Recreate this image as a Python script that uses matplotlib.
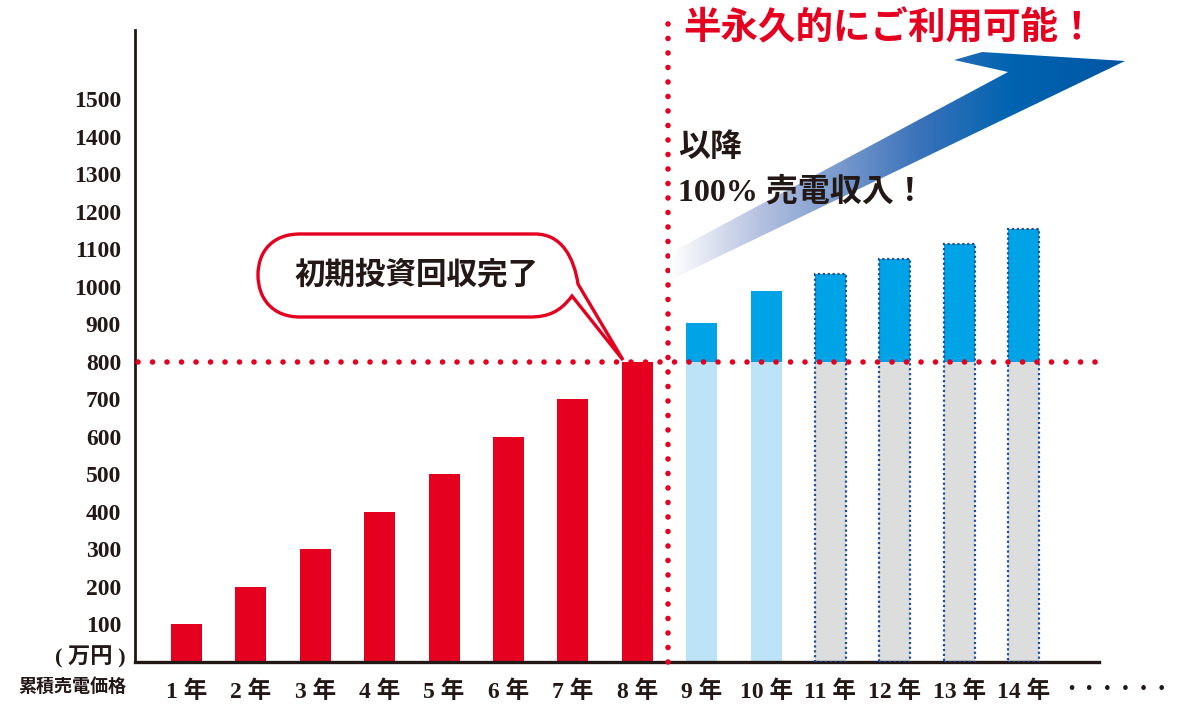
import numpy as np
import matplotlib
matplotlib.use("Agg")
import matplotlib.pyplot as plt
from matplotlib.path import Path
from matplotlib.patches import PathPatch, Polygon
from matplotlib.colors import LinearSegmentedColormap

plt.rcParams['font.family'] = ['Liberation Serif', 'Noto Sans CJK JP']
plt.rcParams['font.weight'] = 'bold'

RED = "#e60020"
INK = "#231815"

# data
years = list(range(1, 15))
year_labels = [f"{y} 年" for y in years]
payback = [100, 200, 300, 400, 500, 600, 700, 800]
after_years = [9, 10, 11, 12, 13, 14]
after_total = [905, 990, 1035, 1075, 1115, 1155]
threshold = 800
yticks = list(range(100, 1600, 100))

fig = plt.figure(figsize=(11.8, 7.04), dpi=100)
ax = fig.add_axes([135/1180, 42/704, 964/1180, 632/704])
ax.set_xlim(0.2, 15.17)
ax.set_ylim(0, 1685)

w = 0.48
ax.bar(years[:8], payback, width=w, color=RED, zorder=2)

# 9-10: light blue base, 11-14: grey base with dotted outline
base_cols = ["#bde3f7", "#bde3f7", "#dcdddd", "#dcdddd", "#dcdddd", "#dcdddd"]
ax.bar(after_years, [threshold] * 6, width=w, color=base_cols, zorder=2)
ax.bar(after_years, [v - threshold for v in after_total], bottom=threshold,
       width=w, color="#00a3e6", zorder=2)
ax.bar(after_years[2:], after_total[2:], width=w, fill=False,
       edgecolor="#1f4e9c", linewidth=1.6, linestyle=(0, (1, 1.2)), zorder=3)

# dotted red lines
dot = dict(color=RED, linewidth=4, linestyle=(0, (0.01, 2.6)),
           dash_capstyle="round", zorder=4, clip_on=False)
ax.plot([0.25, 15.14], [threshold, threshold], **dot)
ax.plot([8.48, 8.48], [0, 1705], **dot)

for s in ["top", "right"]:
    ax.spines[s].set_visible(False)
ax.spines["left"].set_linewidth(2)
ax.spines["bottom"].set_linewidth(2.4)
ax.spines["left"].set_color(INK)
ax.spines["bottom"].set_color(INK)
ax.set_facecolor("none")

ax.set_yticks(yticks)
ax.set_yticklabels([str(t) for t in yticks], fontsize=17, color=INK)
ax.set_xticks(years)
ax.set_xticklabels(year_labels, fontsize=17, color=INK)
ax.tick_params(axis="y", length=0, pad=10)
ax.tick_params(axis="x", length=0, pad=13)

# overlay in pixel coordinates for the decorations
ov = fig.add_axes([0, 0, 1, 1])
ov.axis("off")

# gradient arrow
arrow = Polygon([(670, 280), (1125, 61), (982, 52), (954, 60), (1008, 72), (670, 253)],
                closed=True, facecolor="none", edgecolor="none")
ov.add_patch(arrow)
cmap = LinearSegmentedColormap.from_list(
    "arr", [(0, "#ffffff"), (0.2, "#b4c0e0"), (0.55, "#3a72ba"), (0.75, "#0064b0"), (1, "#0055a4")])
grad = np.linspace(0, 1, 256).reshape(1, -1)
im = ov.imshow(grad, cmap=cmap, extent=[670, 1125, 285, 50], aspect="auto", zorder=1)
im.set_clip_path(arrow)

# speech bubble
verts = [(300, 234), (535, 234),
         (562, 234), (574, 258), (578, 284),
         (623, 360), (572, 296),
         (560, 312), (548, 317), (530, 317),
         (300, 317),
         (272, 317), (258, 298), (258, 275),
         (258, 252), (272, 234), (300, 234),
         (0, 0)]
codes = [Path.MOVETO, Path.LINETO,
         Path.CURVE4, Path.CURVE4, Path.CURVE4,
         Path.LINETO, Path.LINETO,
         Path.CURVE4, Path.CURVE4, Path.CURVE4,
         Path.LINETO,
         Path.CURVE4, Path.CURVE4, Path.CURVE4,
         Path.CURVE4, Path.CURVE4, Path.CURVE4,
         Path.CLOSEPOLY]
ov.add_patch(PathPatch(Path(verts, codes), facecolor="white", edgecolor=RED,
                       linewidth=2.4, zorder=3))
ov.text(416, 276, "初期投資回収完了", fontsize=22, color=INK, ha="center", va="center", zorder=4)

ov.text(683, 29, "半永久的にご利用可能！", fontsize=27, color=RED, ha="left", va="center")
ov.text(678, 148, "以降", fontsize=23, color=INK, ha="left", va="center", zorder=4)
ov.text(678, 192, "100% 売電収入！", fontsize=23, color=INK, ha="left", va="center", zorder=4)

ov.text(126, 657, "( 万円 )", fontsize=16, color=INK, ha="right", va="center")
ov.text(126, 687, "累積売電価格", fontsize=13, color=INK, ha="right", va="center")
ov.text(1062, 690, "・・・・・・", fontsize=13, color=INK, ha="left", va="center")

ov.set_xlim(0, 1180)
ov.set_ylim(704, 0)

fig.savefig("out.png", dpi=100)
